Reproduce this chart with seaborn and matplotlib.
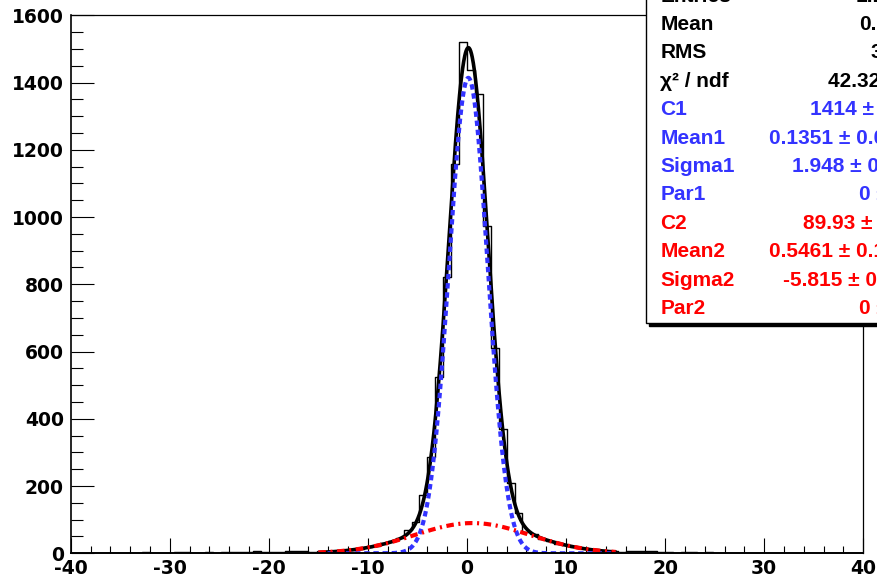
import numpy as np
import pandas as pd
import matplotlib
matplotlib.use("Agg")
import matplotlib.pyplot as plt
import seaborn as sns
from matplotlib.patches import Rectangle

# ---------------- data ----------------
x_lo, x_hi, n_bins = -40.0, 40.0, 100
counts = [
    0, 0, 1, 0, 0, 1, 0, 1, 2, 3,
    1, 2, 2, 4, 3, 2, 2, 3, 2, 4,
    3, 5, 5, 6, 4, 5, 4, 6, 7, 6,
    5, 5, 6, 7, 9, 11, 14, 18, 23, 30,
    36, 45, 69, 94, 173, 286, 524, 823, 1159, 1521,
    1438, 1366, 972, 611, 370, 210, 119, 63, 58, 44,
    37, 28, 25, 19, 15, 12, 9, 7, 6, 5,
    6, 8, 7, 6, 5, 4, 2, 3, 3, 2,
    4, 2, 1, 1, 2, 1, 0, 1, 1, 0,
    1, 0, 0, 1, 0, 0, 0, 0, 0, 0,
]
# fit parameters (from stats box)
C1, MEAN1, SIGMA1 = 1414.0, 0.1351, 1.948
C2, MEAN2, SIGMA2 = 89.93, 0.5461, -5.815
fit_lo, fit_hi = -15.0, 15.0

x_ticks = [-40, -30, -20, -10, 0, 10, 20, 30, 40]
y_ticks = [0, 200, 400, 600, 800, 1000, 1200, 1400, 1600]

stats_labels = ["Entries", "Mean", "RMS", "\u03c7\u00b2 / ndf", "C1", "Mean1", "Sigma1", "Par1",
                "C2", "Mean2", "Sigma2", "Par2"]
stats_values = ["1.1e+04", "0.1913", "3.186", "42.32 / 33", "1414 \u00b1 13.6", "0.1351 \u00b1 0.0185",
                "1.948 \u00b1 0.018", "0 \u00b1 0", "89.93 \u00b1 2.51", "0.5461 \u00b1 0.1020",
                "-5.815 \u00b1 0.115", "0 \u00b1 0"]
stats_colors = ["black"] * 4 + ["#3333ff"] * 4 + ["#ff0000"] * 4
stats_value_x = [856, 859, 871, 828, 810, 769, 791.7, 859, 803, 769, 783, 859]

# ---------------- style ----------------
sns.set_style("ticks")
plt.rcParams['font.family'] = ['Liberation Sans', 'DejaVu Sans']
plt.rcParams['font.weight'] = 'bold'
plt.rcParams['text.color'] = 'black'
plt.rcParams['xtick.color'] = 'black'
plt.rcParams['ytick.color'] = 'black'
plt.rcParams['xtick.labelcolor'] = 'black'
plt.rcParams['ytick.labelcolor'] = 'black'

W, H = 878, 581
fig = plt.figure(figsize=(W / 100, H / 100), dpi=100)
ax_l, ax_r, ax_t, ax_b = 70.7, 863.3, 15.3, 553.3
ax = fig.add_axes([ax_l / W, 1 - ax_b / H, (ax_r - ax_l) / W, (ax_b - ax_t) / H])

bin_w = (x_hi - x_lo) / n_bins
centers = x_lo + bin_w * (np.arange(n_bins) + 0.5)
df = pd.DataFrame({"x": centers, "n": np.asarray(counts, dtype=float)})
sns.histplot(data=df, x="x", weights="n", binwidth=bin_w, binrange=(x_lo, x_hi),
             element="step", fill=False, color="black", linewidth=1.0, ax=ax)

xf = np.linspace(fit_lo, fit_hi, 801)
g1 = C1 * np.exp(-0.5 * ((xf - MEAN1) / SIGMA1) ** 2)
g2 = C2 * np.exp(-0.5 * ((xf - MEAN2) / SIGMA2) ** 2)

sns.lineplot(x=xf, y=g1 + g2, color="black", linewidth=2.6, ax=ax, sort=False, estimator=None)
sns.lineplot(x=xf, y=g1, color="#3333ff", linewidth=3.0, ax=ax, sort=False, estimator=None)
ax.lines[-1].set_dashes([1.3, 0.9])
sns.lineplot(x=xf, y=g2, color="#ff0000", linewidth=3.0, ax=ax, sort=False, estimator=None)
ax.lines[-1].set_dashes([1.8, 1.1, 0.5, 1.1])

ax.set_xlim(x_lo, x_hi)
ax.set_ylim(0, 1600)
ax.set_xlabel("")
ax.set_ylabel("")
ax.set_xticks(x_ticks)
ax.set_yticks(y_ticks)
ax.set_xticklabels([str(v) for v in x_ticks])
ax.set_yticklabels([str(v) for v in y_ticks])
ax.set_xticks(np.arange(-40, 41, 2), minor=True)
ax.set_yticks(np.arange(0, 1601, 50), minor=True)
ax.tick_params(axis="x", which="major", direction="in", length=10.8, width=0.8, pad=4,
               top=False, colors="black", labelcolor="black")
ax.tick_params(axis="x", which="minor", direction="in", length=5, width=0.8, top=False,
               colors="black")
ax.tick_params(axis="y", which="major", direction="in", length=16.5, width=0.8, pad=5,
               right=False, colors="black", labelcolor="black")
ax.tick_params(axis="y", which="minor", direction="in", length=8.5, width=0.8, right=False,
               colors="black")
for lab in ax.get_xticklabels() + ax.get_yticklabels():
    lab.set_fontweight("bold")
    lab.set_fontfamily(["DejaVu Sans"])
    lab.set_fontsize(13.5)
    lab.set_color("black")
for s in ax.spines.values():
    s.set_color("black")
    s.set_linewidth(0.9)
ax.spines["bottom"].set_linewidth(1.4)
ax.spines["left"].set_linewidth(1.2)

# ---------------- stats box ----------------
bx0, by_bottom = 645.7, 322.5
shadow = Rectangle(((bx0 + 3) / W, 1 - (by_bottom + 3) / H), 1.0, 1.0,
                   transform=fig.transFigure, facecolor="black", edgecolor="black",
                   zorder=5, clip_on=False)
box = Rectangle((bx0 / W, 1 - by_bottom / H), 1.0, 1.0, transform=fig.transFigure,
                facecolor="white", edgecolor="black", linewidth=1.0, zorder=6, clip_on=False)
fig.add_artist(shadow)
fig.add_artist(box)

base0, step = 1.6, 28.4
for k, (lab, val, col, vx) in enumerate(zip(stats_labels, stats_values, stats_colors, stats_value_x)):
    yb = base0 + step * k
    fig.text(660.5 / W, 1 - yb / H, lab, color=col, fontsize=15, fontweight="bold",
             ha="left", va="baseline", zorder=7)
    fig.text(vx / W, 1 - yb / H, val, color=col, fontsize=15, fontweight="bold",
             ha="left", va="baseline", zorder=7)

fig.savefig("out.png", dpi=100)
